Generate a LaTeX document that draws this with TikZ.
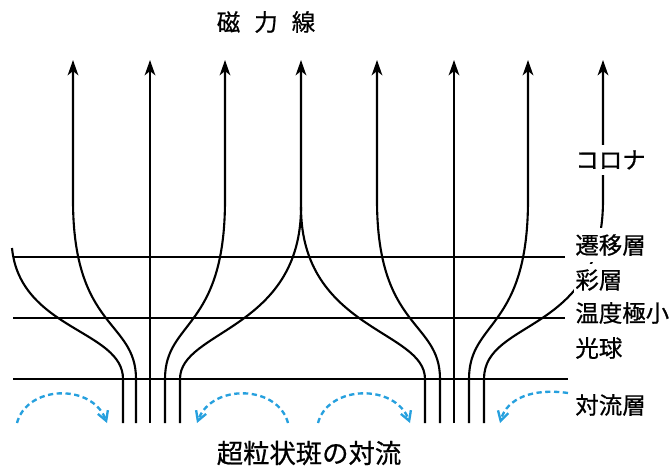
\documentclass[tikz,border=0pt]{standalone}
\usepackage{fontspec}
\setmainfont{Noto Sans CJK JP}[FakeBold=0.7]
\usepackage{xcolor}
\usepackage{tikz}
\usetikzlibrary{arrows.meta,positioning,calc}
\definecolor{flowblue}{RGB}{38,160,222}
\tikzset{field/.style={line width=1.8pt},
  layer/.style={line width=2.1pt},
  thinlayer/.style={line width=1.1pt},
  flow/.style={flowblue,line width=2pt,dash pattern=on 4.5pt off 3pt,-{Straight Barb[length=2.8mm,width=3.2mm]}},
  lbl/.style={anchor=west,fill=white,inner xsep=1pt,inner ysep=5pt,font=\fontsize{20}{24}\selectfont}}

\begin{document}
\begin{tikzpicture}[x=0.03cm, y=-0.03cm, >={Stealth[length=4.6mm,width=3.2mm,inset=1.3mm]}]
        \useasboundingbox (0,0) rectangle (670,467);
        % transition region, temperature minimum, photosphere
        \coordinate (tr) at (13,257);
        \coordinate (tmin) at (13,318);
        \coordinate (ph) at (13,379);
        \draw[layer] (tr) -- (565,257);
        \draw[thinlayer] (tmin) -- (565,318);
        \draw[layer] (ph) -- (568,379);
        % foot points of the field lines
        \foreach \x/\n in {123/a1,136/a2,150/a3,165/a4,180/a5,425/b1,440/b2,454/b3,469/b4,484/b5}
            \coordinate (\n) at (\x,423);
        % arrow tips up in the corona
        \foreach \x [count=\i] in {73,150,225,301,377,454,528,603}
            \coordinate (t\i) at (\x,60);
        \coordinate (edge) at (12,248);
        \coordinate (cusp) at (301,207);
        % field lines
        \draw[field] (a1) -- (a1 |- ph) .. controls (123,330) and (20,330) .. (edge);
        \draw[field,->] (a2) -- (a2 |- ph) .. controls (136,320) and (73,330) .. (73,200) -- (t1);
        \draw[field,->] (a3) -- (t2);
        \draw[field,->] (a4) -- (a4 |- ph) .. controls (165,320) and (225,330) .. (225,200) -- (t3);
        \draw[field] (a5) -- (a5 |- ph) .. controls (180,330) and (301,330) .. (cusp);
        \draw[field,->] (b1) -- (b1 |- ph) .. controls (425,330) and (301,330) .. (cusp) -- (t4);
        \draw[field,->] (b2) -- (b2 |- ph) .. controls (440,320) and (377,330) .. (377,200) -- (t5);
        \draw[field,->] (b3) -- (t6);
        \draw[field,->] (b4) -- (b4 |- ph) .. controls (469,320) and (528,330) .. (528,200) -- (t7);
        \draw[field,->] (b5) -- (b5 |- ph) .. controls (484,318) and (603,335) .. (603,200) -- (t8);
        % supergranular flows
        \draw[flow] (17,423) .. controls (27,385) and (92,383) .. (107,423);
        \draw[flow] (288,423) .. controls (278,385) and (212,383) .. (197,423);
        \draw[flow] (318,423) .. controls (328,385) and (395,383) .. (410,423);
        \draw[flow] (568,393) .. controls (533,388) and (507,398) .. (500,423);
        % labels
        \node[lbl] (corona) at (574,160) {コロナ};
        \node[lbl] (trans) at (574,245) {遷移層};
        \node[lbl] (chromo) at (574,280) {彩層};
        \node[lbl] (tminlbl) at (574,313) {温度極小};
        \node[lbl] (photo) at (574,348) {光球};
        \node[lbl] (conv) at (574,405) {対流層};
        \node[font=\fontsize{20}{24}\selectfont] (title) at (266,22) {磁\hspace{.6em}力\hspace{.6em}線};
        \node[font=\fontsize{22.5}{26}\selectfont] (super) at (309,453) {超粒状斑の対流};
\end{tikzpicture}
\end{document}
